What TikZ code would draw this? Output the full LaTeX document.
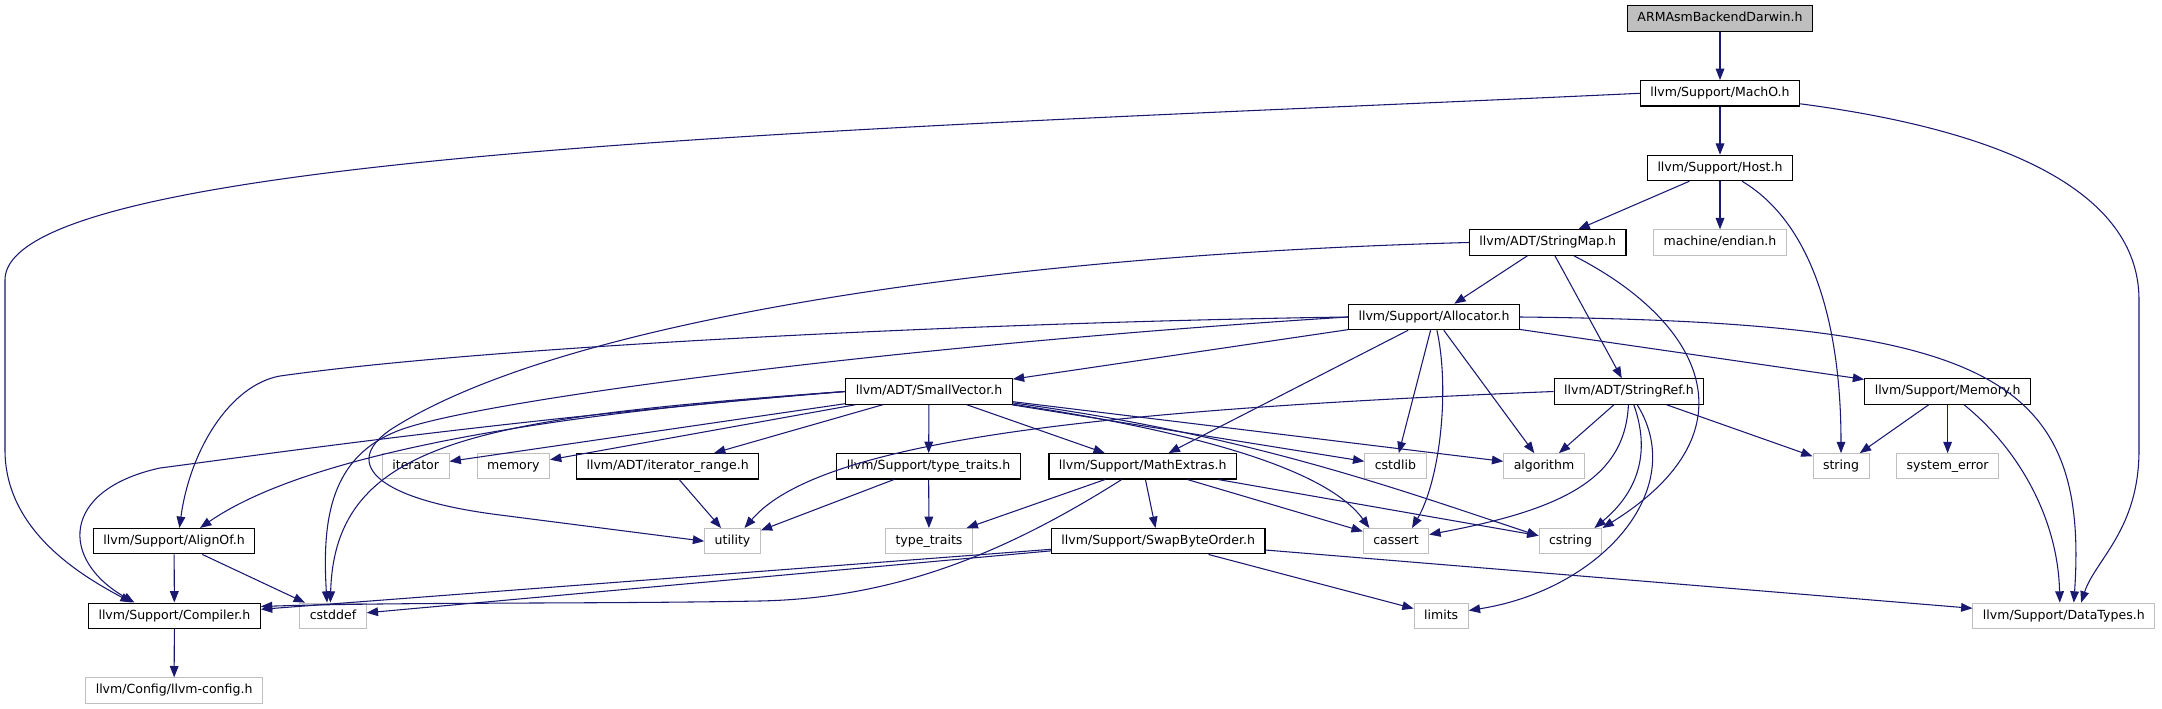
\documentclass[tikz,border=0pt]{standalone}
\usepackage{fontspec}
\setmainfont{DejaVu Sans}
\usetikzlibrary{arrows.meta}
\definecolor{edgeblue}{HTML}{191970}
\definecolor{extgray}{HTML}{BFBFBF}
\tikzset{
  hdr/.style={rectangle, draw=black, line width=0.9pt, fill=white, inner xsep=7.5pt, inner ysep=0pt,
              minimum height=19pt, text height=7.2pt, text depth=2.2pt,
              font=\fontsize{9.4pt}{11pt}\selectfont},
  sys/.style={hdr, draw=extgray, line width=0.75pt},
  rootbox/.style={hdr, fill=extgray},
  inc/.style={-{Triangle[length=8.5pt,width=6.5pt]}, line width=0.8pt, draw=edgeblue},
}

\begin{document}
\begin{tikzpicture}[x=0.75pt, y=-0.75pt]
  \useasboundingbox (0,0) rectangle (2162,709);

  % --- top of the chain
  \node[rootbox] (root)   at (1720,18.5)  {ARMAsmBackendDarwin.h};
  \node[hdr]     (macho)  at (1720,93.3)  {llvm/Support/MachO.h};
  \node[hdr]     (host)   at (1720,168)   {llvm/Support/Host.h};
  \node[hdr]     (strmap) at (1547.7,242.5) {llvm/ADT/StringMap.h};
  \node[sys]     (endian) at (1720,242.5) {machine/endian.h};
  \node[hdr]     (alloc)  at (1434,317)   {llvm/Support/Allocator.h};

  % --- row 6
  \node[hdr] (smallvec) at (929,391.5)    {llvm/ADT/SmallVector.h};
  \node[hdr] (strref)   at (1629,391.5)   {llvm/ADT/StringRef.h};
  \node[hdr] (llmem)    at (1947.6,391.5) {llvm/Support/Memory.h};

  % --- row 7
  \node[sys] (iterator)  at (415.7,466.3)  {iterator};
  \node[sys] (stdmem)    at (513.3,466.3)  {memory};
  \node[hdr] (itrange)   at (667.7,466.3)  {llvm/ADT/iterator\_range.h};
  \node[hdr] (typetr)    at (928.6,466.3)  {llvm/Support/type\_traits.h};
  \node[hdr] (mathext)   at (1142.7,466.3) {llvm/Support/MathExtras.h};
  \node[sys] (cstdlib)   at (1395.4,466.3) {cstdlib};
  \node[sys] (algorithm) at (1544,466.3)   {algorithm};
  \node[sys] (string)    at (1841,466.3)   {string};
  \node[sys] (syserr)    at (1947.6,466.3) {system\_error};

  % --- row 8
  \node[hdr] (alignof)    at (174.1,541.2)  {llvm/Support/AlignOf.h};
  \node[sys] (utility)    at (732.5,541.2)  {utility};
  \node[sys] (typetraits) at (929,541.2)    {type\_traits};
  \node[hdr] (swap)       at (1158.2,541.2) {llvm/Support/SwapByteOrder.h};
  \node[sys] (cassert)    at (1396,541.2)   {cassert};
  \node[sys] (cstring)    at (1570.5,541.2) {cstring};

  % --- bottom rows
  \node[hdr] (compiler)  at (174.4,615.8)  {llvm/Support/Compiler.h};
  \node[sys] (cstddef)   at (333,615.8)    {cstddef};
  \node[sys] (limits)    at (1441.2,615.8) {limits};
  \node[sys] (datatypes) at (2063.8,615.8) {llvm/Support/DataTypes.h};
  \node[sys] (config)    at (174.1,690.5)  {llvm/Config/llvm-config.h};

  % --- straight includes
  \foreach \a/\b in {root/macho, macho/host, host/strmap, host/endian, strmap/alloc, strmap/strref,
                     alloc/smallvec, alloc/mathext, alloc/cstdlib, alloc/algorithm, alloc/llmem,
                     smallvec/iterator, smallvec/stdmem, smallvec/itrange, smallvec/typetr,
                     smallvec/mathext, smallvec/cstdlib, smallvec/algorithm,
                     strref/algorithm, strref/string, llmem/string, llmem/syserr,
                     itrange/utility, typetr/utility, typetr/typetraits,
                     mathext/typetraits, mathext/swap, mathext/cassert, mathext/cstring,
                     alignof/compiler, alignof/cstddef, swap/compiler, swap/cstddef,
                     swap/limits, swap/datatypes, compiler/config}
    { \draw[inc] (\a) -- (\b); }

  % --- long curved includes
  \draw[inc] (macho.west) .. controls (900,128) and (5,150) .. (5,280) -- (5,450)
             .. controls (5,530) and (80,575) .. ([xshift=-32pt]compiler.north);
  \draw[inc] (macho) .. controls (2000,130) and (2139,190) .. (2139,300) -- (2139,450)
             .. controls (2139,530) and (2095,560) .. ([xshift=13pt]datatypes.north);
  \draw[inc] (host) .. controls (1815,225) and (1841,330) .. (string);
  \draw[inc] (strmap) .. controls (1700,320) and (1760,430) .. (cstring.north east);
  \draw[inc] (strmap.west) .. controls (1000,255) and (560,320) .. (390,430)
             .. controls (340,465) and (380,500) .. (500,515) -- (utility.west);

  % Allocator.h
  \draw[inc] (alloc.west) .. controls (1000,322) and (500,345) .. (280,376)
             .. controls (230,385) and (190,450) .. ([xshift=4pt]alignof.north);
  \draw[inc] (alloc.west) .. controls (900,345) and (480,400) .. (400,430)
             .. controls (330,456) and (322,520) .. ([xshift=-4.5pt]cstddef.north);
  \draw[inc] (alloc) .. controls (1450,390) and (1440,480) .. ([xshift=12pt]cassert.north);
  \draw[inc] (alloc.east) .. controls (1980,322) and (2090,370) .. ([xshift=7.5pt]datatypes.north);

  % SmallVector.h
  \draw[inc] (smallvec.west) .. controls (600,410) and (320,445) .. ([xshift=19.5pt]alignof.north);
  \draw[inc] (smallvec.west) .. controls (500,420) and (260,455) .. (160,468)
             .. controls (60,490) and (60,560) .. ([xshift=-30pt]compiler.north);
  \draw[inc] (smallvec.west) .. controls (480,418) and (335,440) .. ([xshift=-2pt]cstddef.north);
  \draw[inc] (smallvec) .. controls (1150,425) and (1320,460) .. ([xshift=-20pt]cassert.north);
  \draw[inc] (smallvec) .. controls (1250,435) and (1400,490) .. ([yshift=4pt]cstring.west);

  % StringRef.h
  \draw[inc] (strref.west) .. controls (1100,410) and (820,440) .. ([xshift=9pt]utility.north);
  \draw[inc] (strref) .. controls (1625,480) and (1560,510) .. ([yshift=5pt]cassert.east);
  \draw[inc] (strref) .. controls (1650,450) and (1640,490) .. ([xshift=-6pt]cstring.north east);
  \draw[inc] (strref) .. controls (1690,490) and (1600,590) .. ([yshift=4pt]limits.east);

  % Memory.h, MathExtras.h
  \draw[inc] (llmem) .. controls (2020,450) and (2058,520) .. ([xshift=-3pt]datatypes.north);
  \draw[inc] (mathext) .. controls (1010,550) and (900,598) .. (760,601)
             .. controls (600,604) and (400,602) .. ([yshift=7pt]compiler.east);
\end{tikzpicture}
\end{document}
